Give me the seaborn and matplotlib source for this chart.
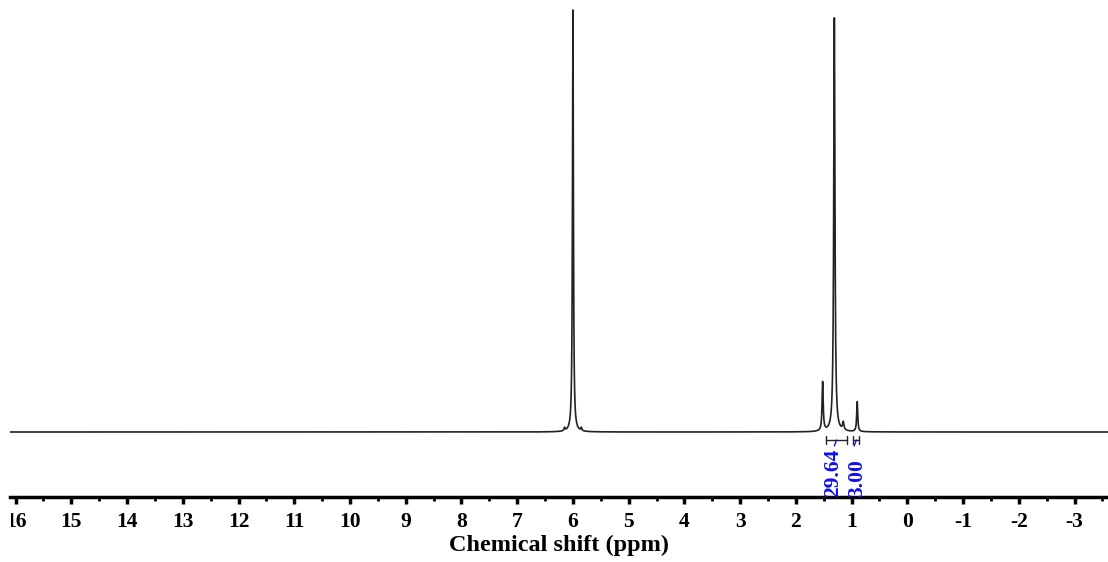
import numpy as np
import pandas as pd
import matplotlib
matplotlib.use("Agg")
import matplotlib.pyplot as plt
import seaborn as sns
from matplotlib.transforms import Bbox, TransformedBbox

# Peak list (ppm, relative height, half-width ppm)
peak_ppm = [6.15, 6.00, 5.85, 1.52, 1.31, 1.15, 0.90]
peak_height = [3.0, 422.0, 3.0, 49.0, 414.0, 8.0, 30.0]
peak_hwhm = [0.010, 0.010, 0.010, 0.012, 0.013, 0.015, 0.011]

# Integration regions (ppm start, ppm end) and values
integ_start = [1.46, 0.97]
integ_end = [1.08, 0.86]
integ_label = ["29.64", "3.00"]
integ_label_pos = [1.34, 0.90]

xticks = list(range(16, -4, -1))
x_min, x_max = -3.6, 16.1

sns.set_theme(style="white")
plt.rcParams['font.family'] = ['Liberation Serif', 'DejaVu Serif']
plt.rcParams['text.color'] = 'black'
plt.rcParams['axes.labelcolor'] = 'black'

ppm = np.linspace(x_max, x_min, 40000)
intensity = np.zeros_like(ppm)
for c, h, w in zip(peak_ppm, peak_height, peak_hwhm):
    intensity += h * w**2 / ((ppm - c)**2 + w**2)
df = pd.DataFrame({"ppm": ppm, "intensity": intensity})

fig = plt.figure(figsize=(11.08, 5.62), dpi=100)
ax = fig.add_axes([10/1108, 65/562, 1098/1108, 497/562])
sns.lineplot(data=df, x="ppm", y="intensity", ax=ax, color="#222222",
             linewidth=1.2, estimator=None, sort=False)

ax.set_xlim(x_max, x_min)
ax.set_ylim(-65, 432)

for s in ["top", "left", "right"]:
    ax.spines[s].set_visible(False)
ax.spines["bottom"].set_linewidth(2.5)
ax.spines["bottom"].set_color("black")
ax.set_yticks([])
ax.set_ylabel("")
ax.set_xticks(xticks)
ax.set_xticklabels([str(t) for t in xticks], fontweight="bold", fontsize=15.5)
ax.set_xticks(np.arange(15.5, -4, -1.0), minor=True)
ax.tick_params(axis="x", which="major", direction="out", length=5, width=2.5,
               bottom=True, pad=6, colors="black")
ax.tick_params(axis="x", which="minor", direction="out", length=3, width=2,
               bottom=True, colors="black")
ax.set_xlabel("Chemical shift (ppm)", fontweight="bold", fontsize=17.5,
              labelpad=2, color="black")

# the left-most label is cut by the picture edge in the reference
clip = TransformedBbox(Bbox([[11/1108, 0], [1, 1]]), fig.transFigure)
first = ax.get_xticklabels()[0]
first.set_clip_box(clip)
first.set_clip_on(True)

blue = "#1010ee"
yb = -8
for s, e, lab, lp in zip(integ_start, integ_end, integ_label, integ_label_pos):
    ax.plot([s, e], [yb, yb], color="#222222", lw=1.0)
    ax.plot([s, s], [yb - 4, yb + 4], color="#222222", lw=1.0)
    ax.plot([e, e], [yb - 4, yb + 4], color="#222222", lw=1.0)
    mid = (s + e) / 2
    ax.plot([mid, mid + 0.04], [yb, yb - 6], color=blue, lw=1.0)
    ax.text(lp, -65, lab, rotation=90, color=blue, fontweight="bold",
            fontsize=15.5, ha="center", va="bottom")

fig.savefig("out.png", dpi=100)
